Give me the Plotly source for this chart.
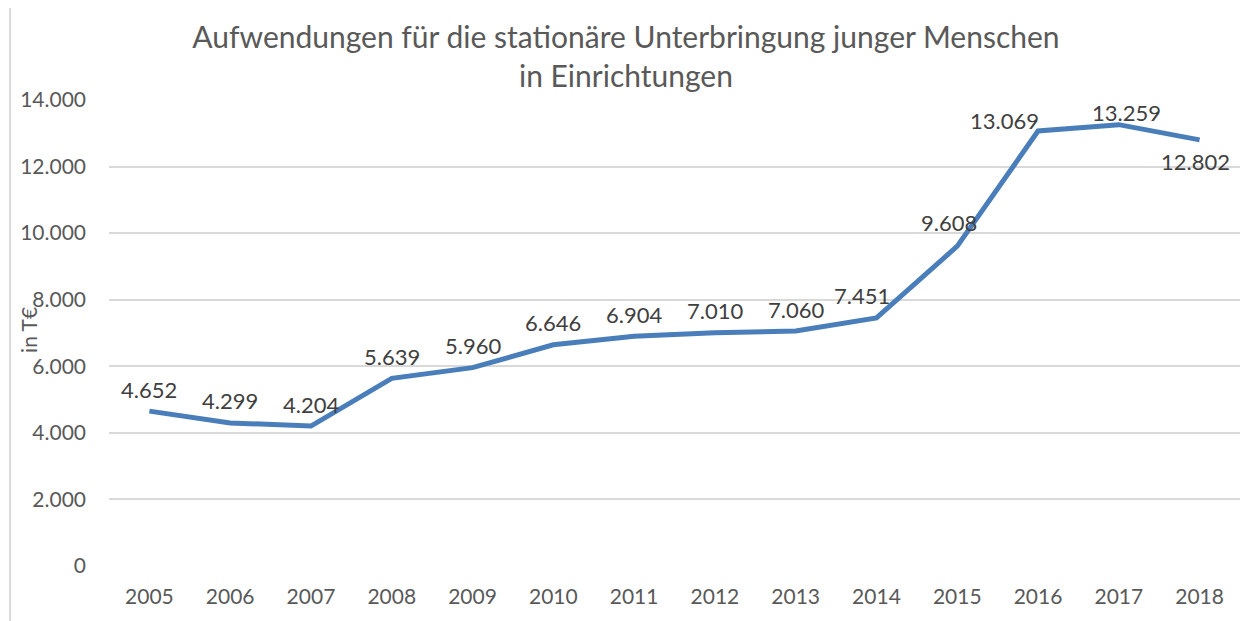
import plotly.graph_objects as go

years = ["2005", "2006", "2007", "2008", "2009", "2010", "2011",
         "2012", "2013", "2014", "2015", "2016", "2017", "2018"]
values = [4652, 4299, 4204, 5639, 5960, 6646, 6904,
          7010, 7060, 7451, 9608, 13069, 13259, 12802]
y_ticks = [0, 2000, 4000, 6000, 8000, 10000, 12000, 14000]

title_text = "Aufwendungen für die stationäre Unterbringung junger Menschen<br>in Einrichtungen"
y_title = "in T€"

FONT = "Lato"
TXT = "#595959"
LINE = "#4A7EBB"

# label offsets (px) per point, mimicking Excel's label placement
x_shifts = [0, 0, 0, 0, 0, 0, 0, 0, 0, -14, -8, -34, 8, -4]
y_shifts = [22, 22, 22, 22, 22, 22, 22, 22, 22, 22, 24, 10, 12, -22]

fig = go.Figure()
fig.add_trace(go.Scatter(
    x=years, y=values, mode="lines",
    line=dict(color=LINE, width=5),
    hoverinfo="x+y", showlegend=False,
))

def fmt(v):
    return f"{v:,}".replace(",", ".")

for i, v in enumerate(values):
    fig.add_annotation(
        x=i, y=v, xref="x", yref="y", text=fmt(v), showarrow=False,
        xshift=x_shifts[i], yshift=y_shifts[i],
        font=dict(family=FONT, size=22, color="#404040"),
    )

fig.add_annotation(
    xref="paper", yref="paper", x=-0.071, y=0.506,
    xanchor="center", yanchor="middle",
    text=y_title, textangle=-90, showarrow=False,
    font=dict(family=FONT, size=21, color=TXT),
)

# outer chart border
fig.add_shape(type="rect", xref="paper", yref="paper",
              x0=-0.0875, x1=1.0115, y0=-0.2, y1=1.3,
              line=dict(color="#D9D9D9", width=2), layer="below")

fig.update_layout(
    width=1255, height=621,
    margin=dict(l=98, r=23, t=92, b=63),
    paper_bgcolor="white", plot_bgcolor="white",
    separators=",.",
    title=dict(text=title_text, x=0.4924, xanchor="center", y=0.936, yanchor="top",
               font=dict(family=FONT, size=30, color=TXT)),
    xaxis=dict(type="category", range=[-0.5, 13.5], showgrid=False,
               showline=False, ticks="", zeroline=False, ticklabelstandoff=16,
               tickfont=dict(family=FONT, size=21, color=TXT)),
    yaxis=dict(range=[0, 14000], tickvals=y_ticks, tickformat=",d",
               showgrid=True, gridcolor="#D9D9D9", gridwidth=1.5,
               zeroline=False, showline=False, ticks="", ticklabelstandoff=22,
               tickfont=dict(family=FONT, size=21, color=TXT)),
)

fig.write_html("out.html")
